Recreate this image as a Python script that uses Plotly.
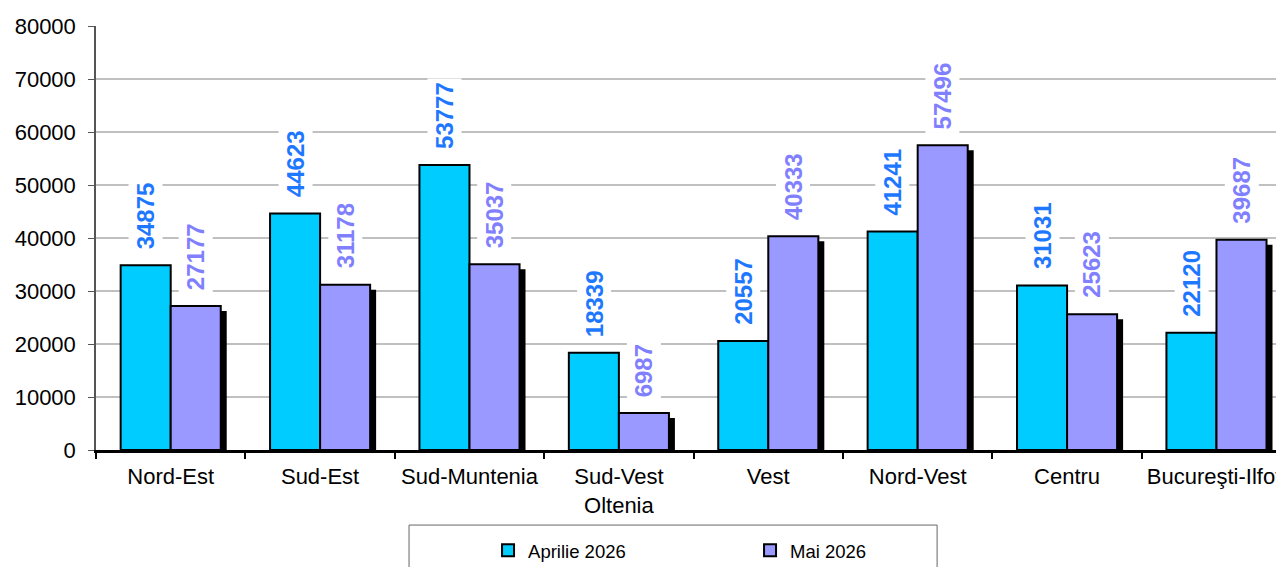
import plotly.graph_objects as go

categories = ["Nord-Est", "Sud-Est", "Sud-Muntenia", "Sud-Vest<br>Oltenia", "Vest",
              "Nord-Vest", "Centru", "Bucureşti-Ilfov"]
aprilie = [34875, 44623, 53777, 18339, 20557, 41241, 31031, 22120]
mai = [27177, 31178, 35037, 6987, 40333, 57496, 25623, 39687]
series_names = ["Aprilie 2026", "Mai 2026"]
y_ticks = [0, 10000, 20000, 30000, 40000, 50000, 60000, 70000, 80000]

FONT = "Arial, Liberation Sans, sans-serif"
C_APR = "#00CCFF"
C_MAI = "#9999FF"
L_APR = "#1E78FF"
L_MAI = "#8080FF"

W = 0.335
SHADOW_DY = 943  # ~5px in data units

fig = go.Figure()
fig.add_trace(go.Bar(x=categories, y=aprilie, name=series_names[0], width=W, offset=-W,
                     marker=dict(color=C_APR, line=dict(color="black", width=2))))
fig.add_trace(go.Bar(x=categories, y=mai, base=-SHADOW_DY, width=W, offset=0.04,
                     marker=dict(color="black", line=dict(width=0)), showlegend=False,
                     hoverinfo="skip"))
fig.add_trace(go.Bar(x=categories, y=mai, name=series_names[1], width=W, offset=0,
                     marker=dict(color=C_MAI, line=dict(color="black", width=2))))

for cat, va, vm in zip(categories, aprilie, mai):
    for v, sh, col in ((va, -25, L_APR), (vm, 25, L_MAI)):
        fig.add_annotation(x=cat, y=v, xshift=sh, yshift=12, text=str(v), textangle=-90,
                           showarrow=False, xanchor="center", yanchor="bottom",
                           bgcolor="white", borderpad=3,
                           font=dict(family=FONT, size=24, color=col, weight="bold"))

# legend frame
fig.add_shape(type="rect", xref="paper", yref="paper", x0=0.2635, x1=0.708, y0=-0.177, y1=-0.35,
              line=dict(color="#666666", width=1), fillcolor="rgba(0,0,0,0)")

fig.update_layout(
    width=1284, height=567,
    margin=dict(l=88, r=8, t=18, b=125, autoexpand=False),
    plot_bgcolor="white", paper_bgcolor="white",
    barmode="overlay",
    font=dict(family=FONT, size=22, color="black"),
    showlegend=True,
    legend=dict(orientation="h", x=0.33, xanchor="left", y=-0.193, yanchor="top",
                font=dict(family=FONT, size=18.5, color="black"),
                entrywidth=217, entrywidthmode="pixels", itemwidth=30,
                bgcolor="rgba(0,0,0,0)", borderwidth=0),
    xaxis=dict(range=[-0.5, 7.452], showgrid=False, showline=True, linecolor="black", linewidth=2.5,
               ticks="outside", tickson="boundaries", ticklen=6, tickcolor="black", tickwidth=2,
               ticklabelstandoff=5,
               tickfont=dict(family=FONT, size=22, color="black")),
    yaxis=dict(range=[0, 80000], tickvals=y_ticks, tickformat="d", showgrid=True,
               gridcolor="#C0C0C0", gridwidth=2,
               showline=True, linecolor="#555555", linewidth=1.5, ticks="outside", ticklen=6,
               tickcolor="#555555", zeroline=False, ticklabelstandoff=8,
               tickfont=dict(family=FONT, size=22, color="black")),
)

fig.write_html("out.html")
